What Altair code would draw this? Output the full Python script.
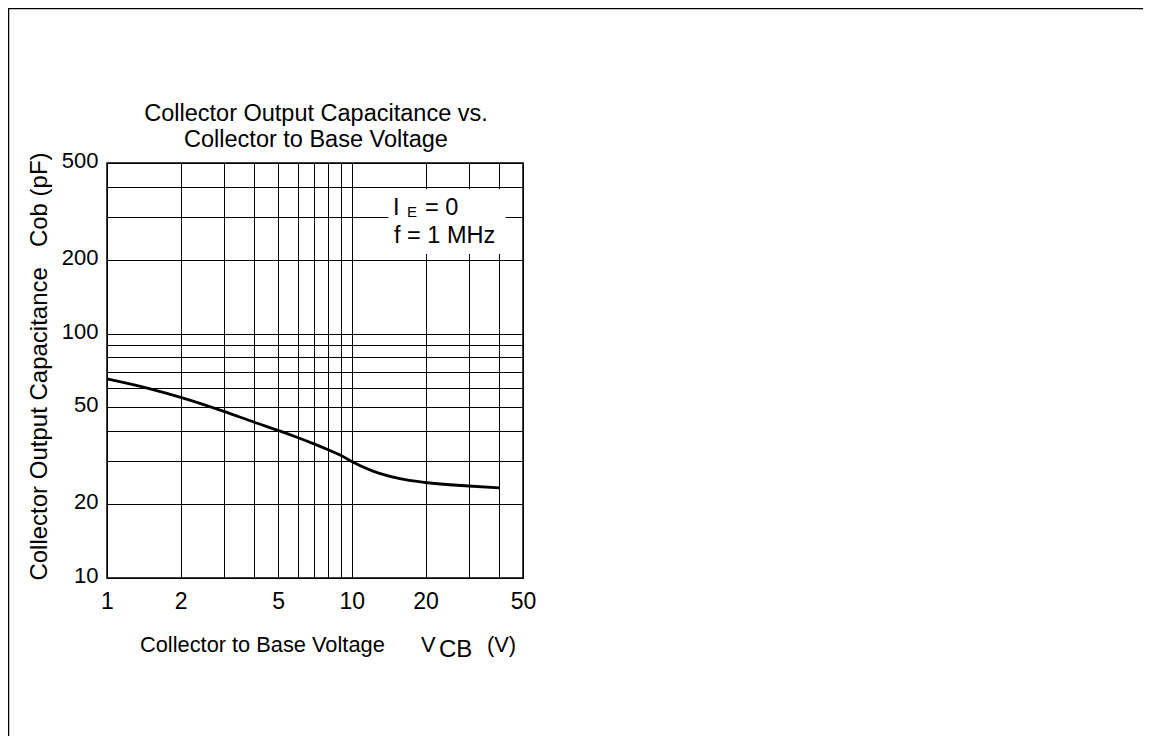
import altair as alt
import pandas as pd

# Curve (V_CB in volts, Cob in pF)
voltage = [1, 1.5, 2, 3, 4, 5, 6, 7, 8, 9, 10, 11, 12.2, 13.5, 15.7, 20, 30, 40]
capacitance = [65.3, 59.5, 54.9, 48.1, 43.4, 40.2, 37.6, 35.4, 33.5, 31.8, 30.0, 28.6, 27.4, 26.5, 25.5, 24.6, 23.8, 23.4]

x_grid = [1, 2, 3, 4, 5, 6, 7, 8, 9, 10, 20, 30, 40, 50]
x_labels = [1, 2, 5, 10, 20, 50]
y_grid = [10, 20, 30, 40, 50, 60, 70, 80, 90, 100, 200, 300, 400, 500]
y_labels = [10, 20, 50, 100, 200, 500]

NB = "\u00a0"
title_lines = ["Collector Output Capacitance vs.", "Collector to Base Voltage"]
y_title = "Collector Output Capacitance" + NB * 3 + "Cob (pF)"
x_title_parts = ["Collector to Base Voltage", "V", "CB", "(V)"]
cond_parts = ["I", "E", "= 0", "f = 1 MHz"]

# white background of the condition box (data coordinates)
box_v = [14.1, 42.4]
box_c = [212.0, 390.0]

FONT = "Liberation Sans"
W, H = 416, 415

df = pd.DataFrame({"V": voltage, "C": capacitance})

xscale = alt.Scale(type="log", domain=[1, 50], nice=False)
yscale = alt.Scale(type="log", domain=[10, 500], nice=False)

xl = ",".join(str(v) for v in x_labels)
yl = ",".join(str(v) for v in y_labels)

xaxis = alt.Axis(values=x_grid, grid=True, ticks=False, tickSize=0, domain=False, title=None,
                 labelExpr=f"indexof([{xl}], datum.value) >= 0 ? '' + datum.value : ''",
                 labelOverlap=False, labelFlush=False, labelFont=FONT, labelFontSize=23,
                 labelColor="black", labelPadding=12,
                 gridColor="black", gridWidth=1, gridOpacity=1)
yaxis = alt.Axis(values=y_grid, grid=True, ticks=False, tickSize=0, domain=False, title=None,
                 labelExpr=f"indexof([{yl}], datum.value) >= 0 ? '' + datum.value : ''",
                 labelOverlap=False, labelFlush=False, labelFont=FONT, labelFontSize=22,
                 labelColor="black", labelPadding=9, labelOffset=-2.5,
                 gridColor="black", gridWidth=1, gridOpacity=1)

curve = alt.Chart(df).mark_line(color="black", strokeWidth=2.8, interpolate="monotone").encode(
    x=alt.X("V:Q", scale=xscale, axis=xaxis),
    y=alt.Y("C:Q", scale=yscale, axis=yaxis),
)

box_df = pd.DataFrame({"v1": [box_v[0]], "v2": [box_v[1]], "c1": [box_c[0]], "c2": [box_c[1]]})
box = alt.Chart(box_df).mark_rect(fill="white", stroke=None).encode(
    x=alt.X("v1:Q", scale=xscale), x2="v2:Q",
    y=alt.Y("c1:Q", scale=yscale), y2="c2:Q",
)

one = pd.DataFrame({"a": [0]})


def txt(text, x, y, size, angle=0, align="left"):
    return alt.Chart(one).mark_text(text=text, font=FONT, fontSize=size, color="black",
                                    align=align, baseline="alphabetic", angle=angle).encode(
        x=alt.value(x), y=alt.value(y))


texts = [
    txt(title_lines[0], W / 2 + 1, -42, 23.5, align="center"),
    txt(title_lines[1], W / 2 + 1, -16, 23.5, align="center"),
    txt(y_title, -60, 203.5, 24, angle=270, align="center"),
    txt(x_title_parts[0], 33, 489, 21.8),
    txt(x_title_parts[1], 314, 489, 21.8),
    txt(x_title_parts[2], 332, 494, 24),
    txt(x_title_parts[3], 380, 489, 21.8),
    txt(cond_parts[0], 286, 52, 23.5),
    txt(cond_parts[1], 300, 54, 15),
    txt(cond_parts[2], 318, 52, 23.5),
    txt(cond_parts[3], 287, 79.5, 23.5),
]

frame = alt.Chart(one).mark_rect(fillOpacity=0, stroke="black", strokeWidth=1.5).encode(
    x=alt.value(-98.5), y=alt.value(-154.5), x2=alt.value(3000), y2=alt.value(3000))

chart = alt.layer(box, curve, *texts, frame).properties(
    width=W, height=H,
    padding={"left": 99, "top": 155, "right": 620, "bottom": 158},
    autosize=alt.AutoSizeParams(type="none"),
    background="white",
).configure_view(stroke="black", strokeWidth=1.5)

chart.save("out.html", embed_options={"renderer": "svg", "actions": False})
